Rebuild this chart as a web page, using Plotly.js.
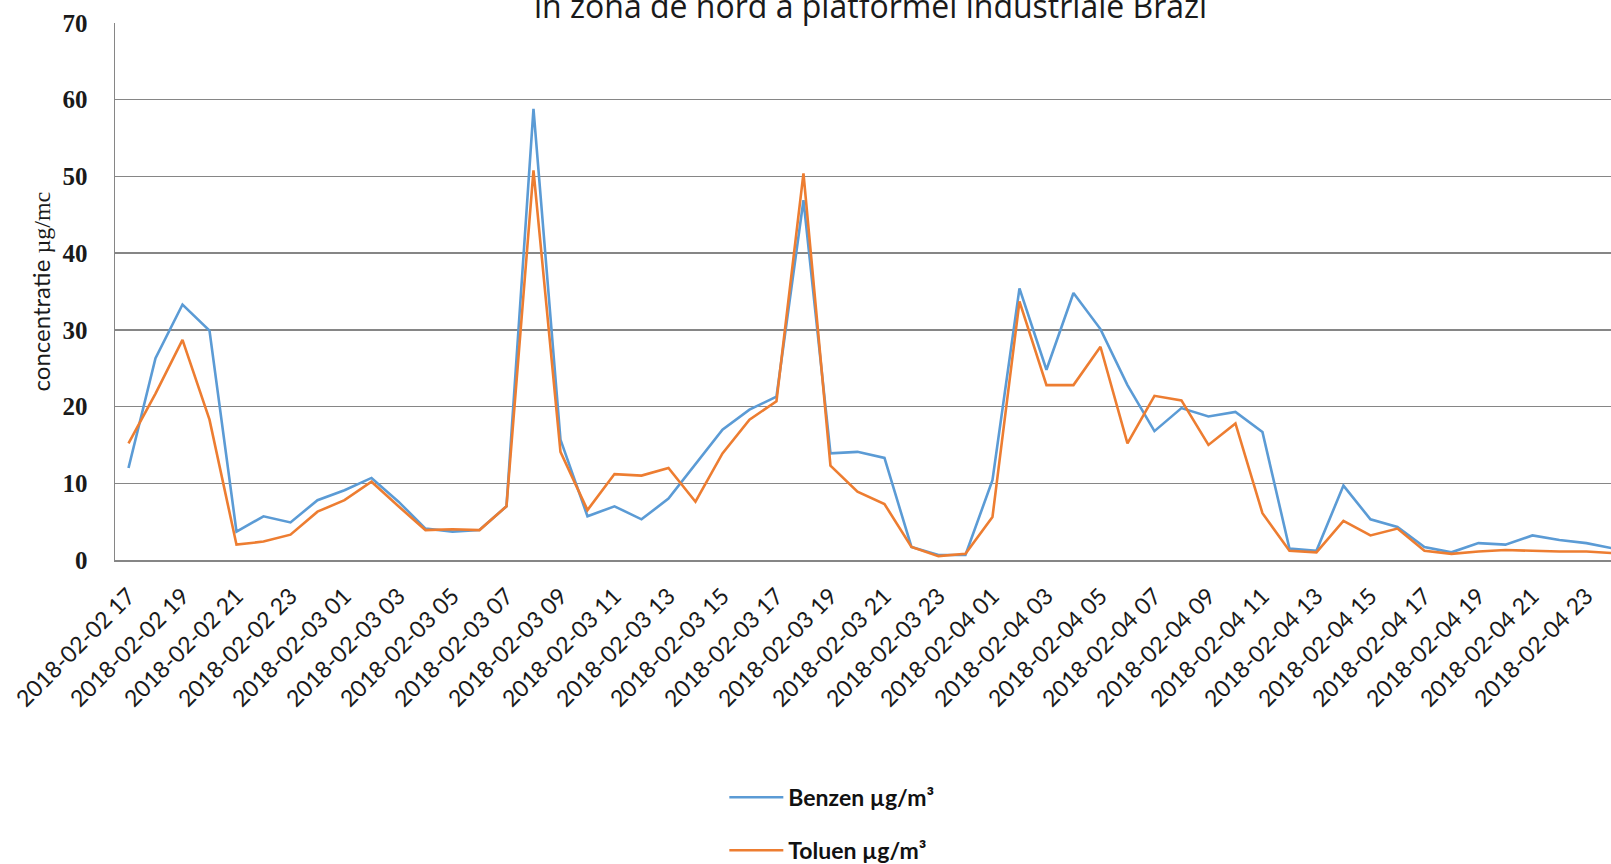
<!DOCTYPE html>
<html>
<head>
<meta charset="utf-8">
<script src="https://cdn.plot.ly/plotly-3.0.1.min.js"></script>
<style>
  html, body { margin: 0; padding: 0; background: #ffffff; overflow: hidden; }
  #chart { width: 1611px; height: 864px; }
</style>
</head>
<body>
<div id="chart"></div>
<script>
// Hourly timestamps (categories)
const hours = [
  "2018-02-02 17","2018-02-02 18","2018-02-02 19","2018-02-02 20","2018-02-02 21","2018-02-02 22","2018-02-02 23",
  "2018-02-03 00","2018-02-03 01","2018-02-03 02","2018-02-03 03","2018-02-03 04","2018-02-03 05","2018-02-03 06",
  "2018-02-03 07","2018-02-03 08","2018-02-03 09","2018-02-03 10","2018-02-03 11","2018-02-03 12","2018-02-03 13",
  "2018-02-03 14","2018-02-03 15","2018-02-03 16","2018-02-03 17","2018-02-03 18","2018-02-03 19","2018-02-03 20",
  "2018-02-03 21","2018-02-03 22","2018-02-03 23","2018-02-04 00","2018-02-04 01","2018-02-04 02","2018-02-04 03",
  "2018-02-04 04","2018-02-04 05","2018-02-04 06","2018-02-04 07","2018-02-04 08","2018-02-04 09","2018-02-04 10",
  "2018-02-04 11","2018-02-04 12","2018-02-04 13","2018-02-04 14","2018-02-04 15","2018-02-04 16","2018-02-04 17",
  "2018-02-04 18","2018-02-04 19","2018-02-04 20","2018-02-04 21","2018-02-04 22","2018-02-04 23","2018-02-05 00"
];

// Benzen µg/m³
const benzen = [
  12.0, 26.3, 33.3, 29.9, 3.7, 5.7, 4.9, 7.8, 9.1, 10.7,
  7.6, 4.1, 3.7, 3.9, 7.0, 58.8, 15.7, 5.7, 7.0, 5.3,
  8.0, 12.5, 17.0, 19.6, 21.3, 46.9, 13.9, 14.1, 13.3, 1.7,
  0.65, 0.65, 10.4, 35.4, 24.8, 34.8, 30.1, 22.8, 16.8, 19.8,
  18.7, 19.3, 16.7, 1.5, 1.2, 9.7, 5.3, 4.3, 1.7, 1.0,
  2.2, 2.0, 3.2, 2.6, 2.2, 1.5
];

// Toluen µg/m³
const toluen = [
  15.2, 21.7, 28.7, 18.3, 2.0, 2.4, 3.3, 6.3, 7.8, 10.2,
  7.0, 3.9, 4.0, 3.9, 7.0, 50.8, 14.1, 6.5, 11.2, 11.0,
  12.0, 7.6, 13.9, 18.3, 20.7, 50.4, 12.3, 8.9, 7.3, 1.7,
  0.5, 0.8, 5.6, 33.7, 22.8, 22.8, 27.8, 15.2, 21.4, 20.8,
  15.0, 17.8, 6.1, 1.2, 1.0, 5.1, 3.2, 4.1, 1.2, 0.8,
  1.1, 1.3, 1.2, 1.1, 1.1, 0.9
];

const seriesNames = ["Benzen µg/m³", "Toluen µg/m³"];
const titleText = "in zona de nord a platformei industriale Brazi";
const yTitleText = "concentratie <span style=\"font-family:'Liberation Serif'\">µg/mc</span>";

const traces = [
  {
    x: hours, y: benzen, name: seriesNames[0], type: "scatter", mode: "lines",
    line: { color: "#5B9BD5", width: 2.6 }, legendgroup: "a"
  },
  {
    x: hours, y: toluen, name: seriesNames[1], type: "scatter", mode: "lines",
    line: { color: "#ED7D31", width: 2.6 }, legendgroup: "b"
  }
];

const layout = {
  width: 1611, height: 864,
  margin: { l: 115, r: 0, t: 23, b: 304, autoexpand: false },
  paper_bgcolor: "#ffffff", plot_bgcolor: "#ffffff",
  font: { family: "Lato, 'Open Sans', sans-serif", color: "#1a1a1a" },
  showlegend: true,
  legend: {
    orientation: "v", x: 0.4073, xanchor: "left", y: -0.402, yanchor: "top",
    font: { family: "Lato, sans-serif", size: 23, color: "#111", weight: "bold" },
    tracegroupgap: 20, itemwidth: 54, bgcolor: "rgba(0,0,0,0)"
  },
  xaxis: {
    type: "category",
    range: [-0.5, 54.91],
    tickmode: "linear", tick0: 0, dtick: 2,
    tickangle: -45,
    tickfont: { family: "Lato, sans-serif", size: 23, color: "#1a1a1a" },
    showgrid: false, showline: true, linecolor: "#868686", linewidth: 1.5,
    ticks: "", zeroline: false, automargin: false, fixedrange: true,
    ticklabelstandoff: 12
  },
  yaxis: {
    range: [0, 70], tickmode: "linear", tick0: 0, dtick: 10,
    tickfont: { family: "'Liberation Serif', serif", size: 25, color: "#1a1a1a", weight: "bold" },
    showgrid: true, gridcolor: "#868686", gridwidth: 1.5,
    showline: true, linecolor: "#868686", linewidth: 1.5,
    ticks: "", zeroline: false, automargin: false, fixedrange: true,
    ticklabelstandoff: 21
  },
  annotations: [
    {
      text: titleText, xref: "paper", yref: "paper",
      x: 0.505, y: 1.0324, xanchor: "center", yanchor: "middle", showarrow: false,
      font: { family: "'Open Sans', sans-serif", size: 32, color: "#1a1a1a" }
    },
    {
      text: yTitleText, xref: "paper", yref: "paper",
      x: -0.0495, y: 0.5, xanchor: "center", yanchor: "middle", showarrow: false,
      textangle: -90,
      font: { family: "Lato, sans-serif", size: 24, color: "#1a1a1a" }
    }
  ]
};

Plotly.newPlot("chart", traces, layout, { staticPlot: true, displayModeBar: false });
</script>
</body>
</html>
